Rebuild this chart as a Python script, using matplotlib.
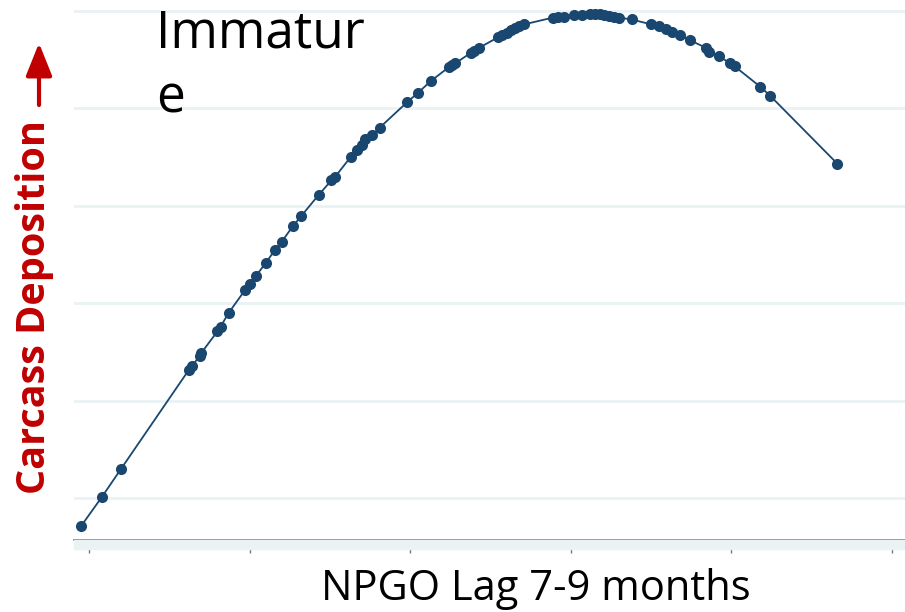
import numpy as np
import matplotlib
matplotlib.use("Agg")
import matplotlib.pyplot as plt
from matplotlib.patches import Rectangle

# NPGO lag 7-9 months (x) and fitted carcass deposition (y)
npgo = [-2.05, -1.92, -1.80, -1.38, -1.36, -1.31, -1.30, -1.20, -1.18, -1.13,
        -1.03, -1.00, -0.96, -0.90, -0.84, -0.80, -0.73, -0.68, -0.57, -0.49,
        -0.47, -0.37, -0.33, -0.30, -0.28, -0.24, -0.19, -0.02, 0.05, 0.13,
        0.24, 0.26, 0.28, 0.38, 0.40, 0.43, 0.55, 0.57, 0.60, 0.63, 0.65,
        0.68, 0.71, 0.89, 0.92, 0.96, 1.02, 1.07, 1.12, 1.15, 1.18, 1.21,
        1.24, 1.27, 1.30, 1.38, 1.50, 1.55, 1.59, 1.63, 1.68, 1.74, 1.84,
        1.86, 1.92, 1.99, 2.02, 2.18, 2.24, 2.66]
deposition = [0.71, 1.01, 1.30, 2.31, 2.35, 2.46, 2.49, 2.71, 2.76, 2.90,
              3.13, 3.20, 3.28, 3.41, 3.55, 3.63, 3.79, 3.89, 4.11, 4.26,
              4.29, 4.50, 4.57, 4.62, 4.68, 4.72, 4.80, 5.06, 5.16, 5.28,
              5.42, 5.44, 5.46, 5.57, 5.59, 5.62, 5.73, 5.75, 5.77, 5.80, 5.82,
              5.84, 5.86, 5.93, 5.935, 5.94, 5.955, 5.96, 5.97, 5.97, 5.97, 5.96,
              5.95, 5.94, 5.93, 5.91, 5.86, 5.84, 5.81, 5.78, 5.75, 5.70, 5.62,
              5.58, 5.54, 5.46, 5.43, 5.22, 5.13, 4.43]
x_ticks = [-2, -1, 0, 1, 2, 3]
y_grid = [1, 2, 3, 4, 5, 6]

navy = '#1a476f'
grid_col = '#eaf2f3'
red = '#c00000'

fig = plt.figure(figsize=(9.05, 6.12), dpi=100)
ax = fig.add_axes([74 / 905, 72 / 612, 831 / 905, 540 / 612])

ax.plot(npgo, deposition, color=navy, lw=1.3, marker='o', ms=8,
        markeredgewidth=0, zorder=3)

ax.set_xlim(-2.093, 3.081)
ax.set_ylim(0.57, 6.11)
ax.set_yticks(y_grid)
ax.set_xticks(x_ticks)
ax.grid(axis='y', color=grid_col, lw=2)
ax.set_axisbelow(True)
ax.tick_params(axis='y', left=False, labelleft=False)
ax.tick_params(axis='x', direction='out', length=9, width=1, color='#777777',
               labelbottom=False)
for s in ['top', 'right', 'left']:
    ax.spines[s].set_visible(False)
ax.spines['bottom'].set_color('#777777')
ax.spines['bottom'].set_linewidth(1.2)

# light band under the axis line
fig.patches.append(Rectangle((74 / 905, 63 / 612), 831 / 905, 9 / 612,
                             transform=fig.transFigure, color=grid_col, zorder=0))

fig.text(536 / 905, 12 / 612, 'NPGO Lag 7-9 months', ha='center', va='baseline',
         fontsize=30, family='Open Sans')

fig.text(156 / 905, 1 - 8 / 612, 'Immatur\ne', ha='left', va='top',
         fontsize=37, family='Open Sans', linespacing=1.38)

fig.text(35 / 905, 1 - 307 / 612, 'Carcass Deposition', rotation=90, ha='center',
         va='center', fontsize=28.5, fontweight='bold', color=red, family='Open Sans')
ax.annotate('', xy=(39 / 905, 1 - 43 / 612), xytext=(39 / 905, 1 - 105 / 612),
            xycoords='figure fraction', textcoords='figure fraction',
            arrowprops=dict(arrowstyle='-|>,head_length=1.0,head_width=0.4',
                            mutation_scale=20, color=red, lw=3, shrinkA=0, shrinkB=0))

fig.savefig('out.png', dpi=100)
